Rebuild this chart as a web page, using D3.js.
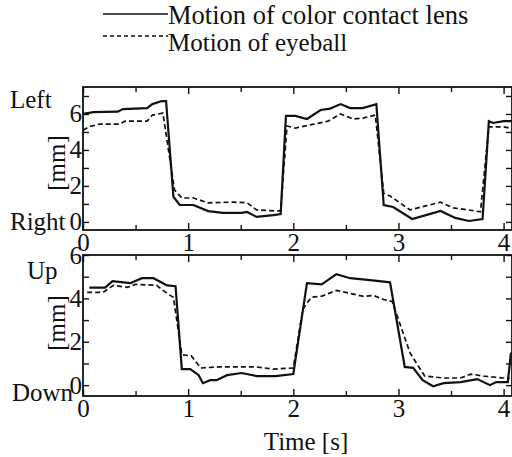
<!DOCTYPE html>
<html>
<head>
<meta charset="utf-8">
<script src="https://cdn.jsdelivr.net/npm/d3@7"></script>
<style>
  body { margin: 0; background: #fff; }
  svg { display: block; }
  text { font-family: "Liberation Serif", "DejaVu Serif", serif; fill: #111; }
</style>
</head>
<body>
<div id="chart"></div>
<script>
// horizontal motion (top panel)
const lensHTime = [0, 0.1, 0.33, 0.38, 0.61, 0.66, 0.75, 0.79, 0.86, 0.92, 1.05, 1.19, 1.33, 1.51, 1.56, 1.65, 1.81, 1.88, 1.93, 2.02, 2.13, 2.26, 2.35, 2.45, 2.54, 2.66, 2.79, 2.86, 2.95, 3.13, 3.27, 3.4, 3.54, 3.67, 3.8, 3.86, 3.9, 4.0, 4.08];
const lensH = [6.0, 6.1, 6.13, 6.27, 6.33, 6.55, 6.72, 6.72, 1.4, 0.94, 0.94, 0.6, 0.5, 0.5, 0.55, 0.28, 0.38, 0.44, 5.89, 5.89, 5.72, 6.22, 6.3, 6.55, 6.33, 6.33, 6.55, 0.94, 0.83, 0.16, 0.39, 0.61, 0.22, 0.05, 0.16, 5.6, 5.5, 5.6, 5.6];
const eyeHTime = [0, 0.06, 0.16, 0.35, 0.4, 0.61, 0.66, 0.76, 0.87, 0.94, 1.05, 1.19, 1.43, 1.56, 1.65, 1.83, 1.88, 1.94, 2.02, 2.16, 2.33, 2.45, 2.57, 2.67, 2.78, 2.86, 2.92, 3.11, 3.26, 3.4, 3.52, 3.66, 3.78, 3.86, 4.0, 4.08];
const eyeH = [5.1, 5.3, 5.44, 5.44, 5.6, 5.6, 5.94, 6.05, 1.78, 1.33, 1.33, 1.06, 1.1, 1.06, 0.67, 0.61, 0.61, 5.33, 5.22, 5.39, 5.6, 6.0, 5.72, 5.78, 5.94, 1.6, 1.44, 0.67, 0.89, 1.1, 0.78, 0.67, 0.56, 5.28, 5.28, 5.2];

// vertical motion (bottom panel)
const lensVTime = [0.06, 0.21, 0.28, 0.45, 0.56, 0.67, 0.8, 0.88, 0.94, 1.02, 1.1, 1.14, 1.21, 1.27, 1.37, 1.51, 1.65, 1.83, 2.0, 2.13, 2.27, 2.41, 2.54, 2.73, 2.92, 3.06, 3.14, 3.23, 3.33, 3.43, 3.59, 3.75, 3.87, 3.93, 4.04, 4.07];
const lensV = [4.5, 4.5, 4.79, 4.7, 4.93, 4.93, 4.6, 4.56, 0.74, 0.74, 0.46, 0.09, 0.23, 0.23, 0.46, 0.56, 0.42, 0.42, 0.51, 4.7, 4.65, 5.12, 4.93, 4.84, 4.74, 0.84, 0.8, 0.23, -0.05, 0.09, 0.14, 0.28, 0.0, 0.14, 0.14, 1.5];
const eyeVTime = [0.04, 0.19, 0.29, 0.42, 0.5, 0.7, 0.81, 0.86, 0.94, 1.03, 1.12, 1.29, 1.65, 1.81, 2.0, 2.09, 2.17, 2.27, 2.41, 2.54, 2.67, 2.76, 2.86, 2.94, 3.11, 3.17, 3.25, 3.43, 3.59, 3.69, 3.81, 4.0, 4.06];
const eyeV = [4.28, 4.28, 4.6, 4.51, 4.65, 4.6, 4.19, 4.05, 1.4, 1.35, 0.79, 0.84, 0.84, 0.74, 0.79, 3.49, 4.05, 4.1, 4.37, 4.23, 4.09, 4.14, 3.95, 3.86, 1.49, 1.02, 0.42, 0.33, 0.33, 0.51, 0.42, 0.33, 0.33];

const xTicks = [0, 0.5, 1, 1.5, 2, 2.5, 3, 3.5, 4];
const yTicksTop = [0, 1, 2, 3, 4, 5, 6, 7];
const yTicksBottom = [0, 1, 2, 3, 4, 5, 6];
const yLabels = [0, 2, 4, 6];
const legendNames = ["Motion of color contact lens", "Motion of eyeball"];

const width = 512, height = 457;
const left = 83, right = 512;
const serif = '"Liberation Serif", "DejaVu Serif", serif';

const svg = d3.select('#chart').append('svg')
    .attr('width', width)
    .attr('height', height);

const x = d3.scaleLinear().domain([0, 4.08]).range([left, right]);

const zip = (ts, vs) => ts.map((t, i) => ({ t: t, v: vs[i] }));

function drawPanel(cfg) {
    const y = d3.scaleLinear().domain(cfg.domain).range([cfg.bottom, cfg.top]);
    const g = svg.append('g');
    const clipId = 'clip' + cfg.id;

    svg.append('clipPath').attr('id', clipId)
        .append('rect')
        .attr('x', left).attr('y', cfg.top)
        .attr('width', right - left).attr('height', cfg.bottom - cfg.top);

    const line = d3.line().x(d => x(d.t)).y(d => y(d.v));

    g.append('path')
        .datum(zip(cfg.lensTime, cfg.lens))
        .attr('clip-path', `url(#${clipId})`)
        .attr('fill', 'none')
        .attr('stroke', '#111')
        .attr('stroke-width', 2.2)
        .attr('d', line);

    g.append('path')
        .datum(zip(cfg.eyeTime, cfg.eye))
        .attr('clip-path', `url(#${clipId})`)
        .attr('fill', 'none')
        .attr('stroke', '#111')
        .attr('stroke-width', 1.7)
        .attr('stroke-dasharray', '5,3')
        .attr('d', line);

    // x axis at bottom (labels) and top (ticks only), ticks inward
    const xb = g.append('g')
        .attr('transform', `translate(0,${cfg.bottom})`)
        .call(d3.axisBottom(x).tickValues(xTicks).tickSize(-5).tickPadding(3)
            .tickFormat(d => Number.isInteger(d) ? d : ''));
    const xt = g.append('g')
        .attr('transform', `translate(0,${cfg.top})`)
        .call(d3.axisTop(x).tickValues(xTicks).tickSize(-5).tickFormat(''));
    [xb, xt].forEach(a => {
        a.select('.domain').remove();
        a.selectAll('.tick line')
            .attr('stroke', '#111').attr('stroke-width', 1.4)
            .attr('y2', function (d) {
                const s = Number.isInteger(d) ? 7 : 5;
                return a === xb ? -s : s;
            });
    });
    xb.selectAll('text').attr('font-size', 25).style('font-family', serif).attr('fill', '#111');

    // y axis left (labels) and right (ticks only)
    const yl = g.append('g')
        .attr('transform', `translate(${left},0)`)
        .call(d3.axisLeft(y).tickValues(cfg.yTicks).tickSize(-6).tickPadding(1)
            .tickFormat(d => yLabels.includes(d) ? d : ''));
    const yr = g.append('g')
        .attr('transform', `translate(${right},0)`)
        .call(d3.axisRight(y).tickValues(cfg.yTicks).tickSize(-6).tickFormat(''));
    [yl, yr].forEach(a => {
        a.select('.domain').remove();
        a.selectAll('.tick line').attr('stroke', '#111').attr('stroke-width', 1.4);
    });
    yl.selectAll('text').attr('font-size', 25).style('font-family', serif).attr('fill', '#111');

    g.append('rect')
        .attr('x', left).attr('y', cfg.top)
        .attr('width', right - left).attr('height', cfg.bottom - cfg.top)
        .attr('fill', 'none')
        .attr('stroke', '#111')
        .attr('stroke-width', 1.8);

    g.append('text').attr('x', cfg.topLabelX).attr('y', cfg.topLabelY).attr('font-size', 25).text(cfg.topLabel);
    g.append('text').attr('x', cfg.bottomLabelX).attr('y', cfg.bottomLabelY).attr('font-size', 25).text(cfg.bottomLabel);
    g.append('text')
        .attr('transform', `translate(65,${cfg.mmY}) rotate(-90)`)
        .attr('text-anchor', 'middle')
        .attr('font-size', 25)
        .text('[mm]');
}

drawPanel({
    id: 'h', top: 87, bottom: 230, domain: [-0.45, 7.5], yTicks: yTicksTop,
    lensTime: lensHTime, lens: lensH, eyeTime: eyeHTime, eye: eyeH,
    topLabel: 'Left', topLabelX: 10, topLabelY: 108,
    bottomLabel: 'Right', bottomLabelX: 10, bottomLabelY: 230, mmY: 163
});

drawPanel({
    id: 'v', top: 255, bottom: 396, domain: [-0.5, 6], yTicks: yTicksBottom,
    lensTime: lensVTime, lens: lensV, eyeTime: eyeVTime, eye: eyeV,
    topLabel: 'Up', topLabelX: 27, topLabelY: 279,
    bottomLabel: 'Down', bottomLabelX: 12, bottomLabelY: 401, mmY: 323
});

svg.append('text')
    .attr('x', 306).attr('y', 450)
    .attr('text-anchor', 'middle')
    .attr('font-size', 25)
    .text('Time [s]');

// legend
const legend = svg.append('g');
legendNames.forEach((name, i) => {
    const ly = [14, 36][i];
    legend.append('line')
        .attr('x1', 103).attr('x2', 168)
        .attr('y1', ly).attr('y2', ly)
        .attr('stroke', '#111')
        .attr('stroke-width', i === 0 ? 1.6 : 1.3)
        .attr('stroke-dasharray', i === 0 ? null : '4,3');
    legend.append('text')
        .attr('x', 168).attr('y', [24, 51][i])
        .attr('font-size', [26.5, 25][i])
        .text(name);
});
</script>
</body>
</html>
